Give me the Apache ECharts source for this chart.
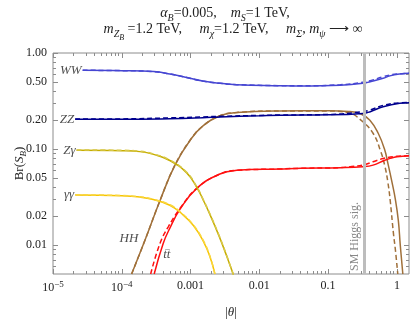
<!DOCTYPE html>
<html><head><meta charset="utf-8">
<script src="https://cdn.jsdelivr.net/npm/echarts@6/dist/echarts.min.js"></script>
<style>html,body{margin:0;padding:0;background:#fff}#c{width:415px;height:322px}</style>
</head><body><div id="c"></div>
<script>
// ---- tick values / labels ----
const xTicks = [1e-5, 1e-4, 1e-3, 1e-2, 1e-1, 1];
const xTickLabels = ['{b|10}{sup|−5}', '{b|10}{sup|−4}', '0.001', '0.01', '0.1', '1'];
const xMinorMult = [2, 3, 4, 5, 6, 7, 8, 9];
const yTicks = [0.01, 0.02, 0.05, 0.1, 0.2, 0.5, 1];
const yTickLabels = ['0.01', '0.02', '0.05', '0.10', '0.20', '0.50', '1.00'];
const yMinor = [0.006, 0.007, 0.008, 0.009, 0.03, 0.04, 0.06, 0.07, 0.08, 0.09, 0.3, 0.4, 0.6, 0.7, 0.8, 0.9];
const smHiggsTheta = 0.34;

// ---- series values ----
const wwTheta  = [2.7e-5, 1e-4, 2.9e-4, 5e-4, 8.8e-4, 1.5e-3, 2.7e-3, 4.7e-3, 0.02, 0.04, 0.15, 0.32, 0.41, 0.63, 0.79, 1.1, 1.5];
const wwSolid  = [0.66, 0.655, 0.64, 0.605, 0.556, 0.51, 0.483, 0.468, 0.457, 0.454, 0.462, 0.483, 0.503, 0.545, 0.578, 0.604, 0.614];
const wwDashed = [0.66, 0.655, 0.64, 0.605, 0.556, 0.51, 0.483, 0.468, 0.457, 0.455, 0.467, 0.495, 0.515, 0.566, 0.59, 0.607, 0.615];

const zzTheta  = [2.1e-5, 1e-4, 5e-4, 1.5e-3, 2.7e-3, 0.01, 0.02, 0.1, 0.32, 0.41, 0.63, 1.1, 1.5];
const zzSolid  = [0.204, 0.204, 0.207, 0.212, 0.216, 0.222, 0.225, 0.227, 0.235, 0.245, 0.276, 0.30, 0.304];
const zzDashed = [0.205, 0.206, 0.211, 0.216, 0.219, 0.224, 0.226, 0.229, 0.245, 0.256, 0.285, 0.303, 0.305];

const zaTheta  = [2.2e-5, 1e-4, 1.84e-4, 2.9e-4, 5e-4, 8.8e-4, 1.23e-3, 1.53e-3, 1.91e-3, 2.6e-3, 3.35e-3, 4.2e-3];
const zaSolid  = [0.097, 0.096, 0.094, 0.0880, 0.0760, 0.0565, 0.040, 0.0294, 0.0209, 0.0124, 0.0077, 0.0049];
const zaDashed = [0.098, 0.097, 0.095, 0.0888, 0.0768, 0.0572, 0.0406, 0.0298, 0.0212, 0.0126, 0.0078, 0.0049];

const aaTheta  = [2.1e-5, 1e-4, 1.84e-4, 2.87e-4, 5e-4, 7.4e-4, 1.1e-3, 1.53e-3, 1.91e-3, 2.26e-3];
const aaSolid  = [0.0332, 0.0326, 0.0316, 0.0298, 0.0260, 0.0213, 0.0160, 0.0110, 0.0076, 0.005];
const aaDashed = [0.0334, 0.0328, 0.0318, 0.0300, 0.0263, 0.0216, 0.0162, 0.0112, 0.0077, 0.005];

const hhTheta  = [1.39e-4, 2.2e-4, 3.59e-4, 5.93e-4, 1.02e-3, 1.53e-3, 2.67e-3, 4.7e-3, 0.02, 0.1, 0.2, 0.3, 0.405, 0.535, 0.66, 0.75, 0.85, 0.95, 1.05, 1.12, 1.22];
const hhSolid  = [0.005, 0.0115, 0.029, 0.068, 0.128, 0.175, 0.222, 0.240, 0.249, 0.25, 0.246, 0.232, 0.2, 0.146, 0.1, 0.068, 0.045, 0.03, 0.018, 0.01, 0.005];
const hhDashTheta = [1.39e-4, 2.2e-4, 3.59e-4, 5.93e-4, 1.02e-3, 1.53e-3, 2.67e-3, 4.7e-3, 0.02, 0.1, 0.2, 0.3, 0.45, 0.58, 0.67, 0.74, 0.8, 0.89, 0.95, 1.03];
const hhDashed = [0.005, 0.0115, 0.029, 0.068, 0.128, 0.175, 0.222, 0.240, 0.249, 0.249, 0.238, 0.2, 0.146, 0.095, 0.066, 0.045, 0.029, 0.0133, 0.009, 0.005];

const ttTheta  = [2.96e-4, 4.0e-4, 5.0e-4, 7.0e-4, 1.23e-3, 2.67e-3, 4.7e-3, 0.02, 0.04, 0.15, 0.32, 0.45, 0.65, 0.8, 1.0, 1.5];
const ttSolid  = [0.005, 0.0104, 0.0150, 0.0235, 0.039, 0.055, 0.0600, 0.062, 0.063, 0.064, 0.0655, 0.068, 0.076, 0.080, 0.083, 0.085];
const ttDashTheta = [2.63e-4, 3.59e-4, 4.74e-4, 7.0e-4, 1.23e-3, 2.67e-3, 4.7e-3, 0.02, 0.04, 0.15, 0.22, 0.32, 0.45, 0.65, 1.0, 1.5];
const ttDashed = [0.005, 0.0104, 0.0155, 0.0240, 0.039, 0.055, 0.0600, 0.062, 0.063, 0.064, 0.066, 0.068, 0.0738, 0.080, 0.084, 0.085];

// curve labels: [theta, value, text, placement, align]
const curveLabels = [
  [2.7e-5, 0.66, '{i|WW}', 'left', null],
  [2.1e-5, 0.204, '{i|ZZ}', 'left', null],
  [2.2e-5, 0.097, '{i|Zγ}', 'left', null],
  [2.1e-5, 0.0332, '{i|γγ}', 'left', null],
  [1.27e-4, 0.0116, '{i|HH}', 'inside', null],
  [4.0e-4, 0.0082, '{bar|_}\n{i|tt}', 'inside', 'left']
];

const SERIF = 'Liberation Serif';
const zip = (a, b) => a.map((v, i) => [v, b[i]]);
const xMinor = [];
xTicks.forEach(d => xMinorMult.forEach(m => { if (d * m <= 1.5) xMinor.push(d * m); }));

const FRAME = '#8c8c8c';
function xAx(o) {
  return Object.assign({type: 'log', logBase: 10, min: 1e-5, max: 1.5, gridIndex: 0,
    splitLine: {show: false}, axisLine: {show: false}, axisLabel: {show: false}, axisTick: {show: false}}, o);
}
function yAx(o) {
  return Object.assign({type: 'log', logBase: 10, min: 0.005, max: 1, gridIndex: 0,
    splitLine: {show: false}, axisLine: {show: false}, axisLabel: {show: false}, axisTick: {show: false}}, o);
}
function nearestIdx(arr, v) {
  let best = 0, bd = Infinity;
  arr.forEach((t, i) => { const d = Math.abs(Math.log10(t) - Math.log10(v)); if (d < bd) { bd = d; best = i; } });
  return best;
}
const tickStyle = {color: FRAME, width: 1};

function line(name, theta, vals, color, dashed, z) {
  return {
    type: 'line', name, data: zip(theta, vals), showSymbol: false, symbol: 'none',
    smooth: 0.45, z: z || 2, silent: true,
    lineStyle: {color, width: 1.5, type: dashed ? [5, 3] : 'solid'}
  };
}

const txt = '#222';
const chart = echarts.init(document.getElementById('c'), null, {renderer: 'canvas'});
chart.setOption({
  animation: false,
  backgroundColor: '#fff',
  grid: {left: 53, right: 6, top: 53, bottom: 48, show: true, borderColor: FRAME, borderWidth: 1,
    backgroundColor: 'transparent', containLabel: false, outerBoundsMode: 'none'},
  graphic: [
    {type: 'text', x: 225, y: 4, style: {
      text: '{i|α}{s|B}{r|=0.005,    }{i|m}{s|S}{r|=1 TeV,}', align: 'center', fill: txt,
      rich: {
        r: {fontFamily: SERIF, fontSize: 14, lineHeight: 19, color: txt},
        i: {fontFamily: SERIF, fontSize: 14, fontStyle: 'italic', lineHeight: 19, color: txt},
        s: {fontFamily: SERIF, fontSize: 10, fontStyle: 'italic', lineHeight: 10, verticalAlign: 'bottom', color: txt}
      }}},
    {type: 'text', x: 233, y: 20, style: {
      text: '{i|m}{s|Z}{ss|B}{r| =1.2 TeV,     }{i|m}{s|χ}{r|=1.2 TeV,     }{i|m}{s|Σ}{r|, }{i|m}{s|ψ}{r| ⟶ ∞}', align: 'center', fill: txt,
      rich: {
        r: {fontFamily: SERIF, fontSize: 14, lineHeight: 19, color: txt},
        i: {fontFamily: SERIF, fontSize: 14, fontStyle: 'italic', lineHeight: 19, color: txt},
        s: {fontFamily: SERIF, fontSize: 10, fontStyle: 'italic', lineHeight: 10, verticalAlign: 'bottom', color: txt},
        ss: {fontFamily: SERIF, fontSize: 8, fontStyle: 'italic', lineHeight: 6, verticalAlign: 'bottom', padding: [0, 0, -3, 0], color: txt}
      }}}
  ],
  xAxis: [
    xAx({position: 'bottom',
      name: '{a||}{i|θ}{a||}', nameLocation: 'middle', nameGap: 32, nameMoveOverlap: false,
      nameTextStyle: {rich: {a: {fontFamily: SERIF, fontSize: 13, color: txt}, i: {fontFamily: SERIF, fontSize: 13, fontStyle: 'italic', color: txt}}},
      axisTick: {show: true, inside: true, length: 5, customValues: xTicks, lineStyle: tickStyle},
      axisLabel: {show: true, customValues: xTicks, margin: 6, color: txt, fontFamily: SERIF, fontSize: 12,
        formatter: v => xTickLabels[nearestIdx(xTicks, v)],
        rich: {b: {fontFamily: SERIF, fontSize: 12, lineHeight: 16, color: txt},
               sup: {fontFamily: SERIF, fontSize: 9, lineHeight: 9, verticalAlign: 'top', color: txt}}}}),
    xAx({position: 'bottom', axisTick: {show: true, inside: true, length: 3, customValues: xMinor, lineStyle: tickStyle}}),
    xAx({position: 'top', axisTick: {show: true, inside: true, length: 5, customValues: xTicks, lineStyle: tickStyle}}),
    xAx({position: 'top', axisTick: {show: true, inside: true, length: 3, customValues: xMinor, lineStyle: tickStyle}})
  ],
  yAxis: [
    yAx({position: 'left',
      name: '{a|Br(}{i|S}{s|B}{a|)}', nameLocation: 'middle', nameGap: 25, nameMoveOverlap: false,
      nameTextStyle: {rich: {a: {fontFamily: SERIF, fontSize: 13, lineHeight: 16, color: txt},
        i: {fontFamily: SERIF, fontSize: 13, fontStyle: 'italic', lineHeight: 16, color: txt},
        s: {fontFamily: SERIF, fontSize: 9, fontStyle: 'italic', lineHeight: 9, verticalAlign: 'bottom', color: txt}}},
      axisTick: {show: true, inside: true, length: 5, customValues: yTicks, lineStyle: tickStyle},
      axisLabel: {show: true, customValues: yTicks, margin: 6, color: txt, fontFamily: SERIF, fontSize: 12,
        formatter: v => yTickLabels[nearestIdx(yTicks, v)]}}),
    yAx({position: 'left', axisTick: {show: true, inside: true, length: 3, customValues: yMinor, lineStyle: tickStyle}}),
    yAx({position: 'right', axisTick: {show: true, inside: true, length: 5, customValues: yTicks, lineStyle: tickStyle}}),
    yAx({position: 'right', axisTick: {show: true, inside: true, length: 3, customValues: yMinor, lineStyle: tickStyle}})
  ],
  series: [
    {type: 'line', data: [], markLine: {silent: true, symbol: ['none', 'none'],
      lineStyle: {color: '#bdbdbd', width: 3, type: 'solid'},
      label: {show: true, formatter: 'SM Higgs sig.', position: 'insideStartTop', distance: [3, 4],
        color: '#888', fontFamily: SERIF, fontSize: 12},
      data: [{xAxis: smHiggsTheta}]}, z: 1},
    line('HH', hhTheta, hhSolid, '#a0703a', false, 3),
    line('HH dashed', hhDashTheta, hhDashed, '#a0703a', true, 3),
    line('tt', ttTheta, ttSolid, '#ff1010', false, 3),
    line('tt dashed', ttDashTheta, ttDashed, '#ff1010', true, 3),
    line('Zγ', zaTheta, zaSolid, '#c6ad00', false, 3),
    line('Zγ dashed', zaTheta, zaDashed, '#d8c84a', true, 4),
    line('γγ', aaTheta, aaSolid, '#f7c500', false, 3),
    line('γγ dashed', aaTheta, aaDashed, '#f9d640', true, 4),
    line('ZZ', zzTheta, zzSolid, '#00008e', false, 3),
    line('ZZ dashed', zzTheta, zzDashed, '#00008e', true, 4),
    line('WW', wwTheta, wwSolid, '#4646d2', false, 3),
    line('WW dashed', wwTheta, wwDashed, '#4646d2', true, 4),
    {type: 'scatter', symbolSize: 0, silent: true, z: 5,
      data: curveLabels.map(c => {
        const lab = {show: true, position: c[3], distance: 1, formatter: c[2]};
        if (c[4]) lab.align = c[4];
        return {value: [c[0], c[1]], label: lab};
      }),
      label: {rich: {
        i: {fontFamily: SERIF, fontSize: 13, fontStyle: 'italic', color: txt},
        bar: {fontFamily: SERIF, fontSize: 9, lineHeight: 2, color: txt, align: 'left', padding: [0, 0, 0, 2]}}}}
  ]
});
</script></body></html>
